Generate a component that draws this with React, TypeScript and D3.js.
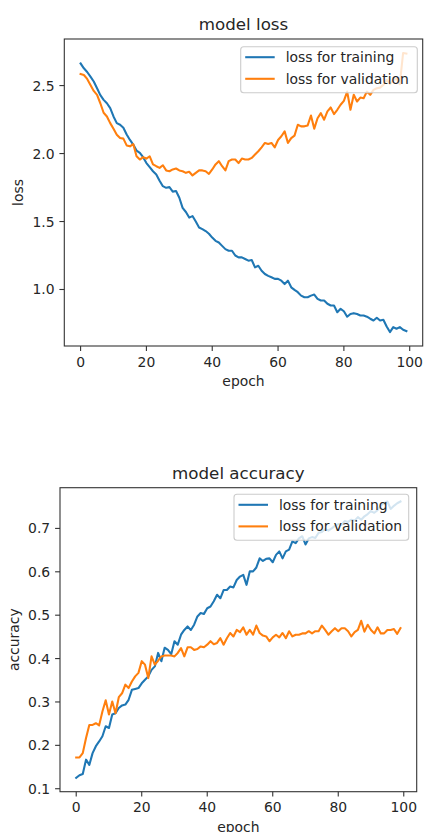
import React from "react";
import * as d3 from "d3";

const epochs: number[] = Array.from({ length: 100 }, (_, i) => i);

const trainLoss: number[] = [
  2.663, 2.627, 2.6, 2.566, 2.53, 2.48, 2.43, 2.395, 2.37, 2.334,
  2.273, 2.224, 2.212, 2.19, 2.14, 2.1, 2.066, 2.022, 2.005, 1.973,
  1.93, 1.9, 1.87, 1.846, 1.8, 1.76, 1.748, 1.753, 1.72, 1.724,
  1.675, 1.6, 1.57, 1.529, 1.54, 1.5, 1.456, 1.444, 1.43, 1.41,
  1.382, 1.358, 1.346, 1.321, 1.297, 1.285, 1.285, 1.25, 1.236, 1.236,
  1.224, 1.212, 1.217, 1.163, 1.175, 1.138, 1.114, 1.1, 1.09, 1.078,
  1.078, 1.065, 1.04, 1.065, 1.016, 0.997, 0.98, 0.955, 0.943, 0.943,
  0.955, 0.963, 0.931, 0.919, 0.919, 0.895, 0.882, 0.882, 0.833, 0.858,
  0.84, 0.8, 0.82, 0.826, 0.82, 0.809, 0.809, 0.8, 0.785, 0.772,
  0.792, 0.772, 0.777, 0.728, 0.687, 0.723, 0.711, 0.723, 0.704, 0.694,
];

const valLoss: number[] = [
  2.585, 2.578, 2.549, 2.505, 2.461, 2.432, 2.37, 2.3, 2.273, 2.224,
  2.183, 2.139, 2.114, 2.11, 2.06, 2.053, 2.07, 1.98, 1.956, 1.973,
  1.963, 1.98, 1.92, 1.907, 1.895, 1.914, 1.876, 1.87, 1.883, 1.89,
  1.876, 1.87, 1.858, 1.866, 1.839, 1.858, 1.876, 1.876, 1.87, 1.85,
  1.883, 1.92, 1.944, 1.907, 1.876, 1.944, 1.956, 1.956, 1.93, 1.963,
  1.956, 1.956, 1.968, 1.993, 2.017, 2.046, 2.078, 2.07, 2.078, 2.046,
  2.1, 2.127, 2.163, 2.078, 2.114, 2.132, 2.212, 2.2, 2.2, 2.207,
  2.28, 2.183, 2.26, 2.297, 2.249, 2.31, 2.339, 2.29, 2.322, 2.359,
  2.388, 2.456, 2.322, 2.432, 2.383, 2.412, 2.407, 2.456, 2.432, 2.468,
  2.48, 2.485, 2.505, 2.542, 2.51, 2.54, 2.55, 2.51, 2.74, 2.735,
];

const trainAcc: number[] = [
  0.125, 0.131, 0.134, 0.167, 0.155, 0.182, 0.198, 0.209, 0.221, 0.244,
  0.24, 0.271, 0.274, 0.286, 0.292, 0.294, 0.305, 0.328, 0.33, 0.332,
  0.343, 0.351, 0.359, 0.374, 0.382, 0.413, 0.394, 0.425, 0.42, 0.41,
  0.44, 0.432, 0.455, 0.466, 0.474, 0.466, 0.478, 0.497, 0.505, 0.503,
  0.516, 0.52, 0.532, 0.547, 0.539, 0.558, 0.558, 0.566, 0.564, 0.581,
  0.589, 0.593, 0.57, 0.601, 0.601, 0.61, 0.631, 0.625, 0.63, 0.631,
  0.622, 0.639, 0.647, 0.631, 0.647, 0.651, 0.67, 0.666, 0.677, 0.682,
  0.663, 0.677, 0.68, 0.678, 0.69, 0.692, 0.698, 0.695, 0.7, 0.706,
  0.71, 0.708, 0.717, 0.715, 0.72, 0.718, 0.726, 0.72, 0.728, 0.733,
  0.74, 0.736, 0.742, 0.753, 0.758, 0.762, 0.745, 0.752, 0.758, 0.762,
];

const valAcc: number[] = [
  0.172, 0.172, 0.182, 0.217, 0.247, 0.247, 0.251, 0.246, 0.278, 0.304,
  0.271, 0.301, 0.274, 0.311, 0.32, 0.34, 0.332, 0.347, 0.359, 0.367,
  0.394, 0.386, 0.355, 0.405, 0.386, 0.395, 0.405, 0.407, 0.407, 0.407,
  0.405, 0.413, 0.424, 0.405, 0.426, 0.426, 0.42, 0.422, 0.428, 0.426,
  0.432, 0.44, 0.433, 0.436, 0.447, 0.432, 0.447, 0.459, 0.451, 0.466,
  0.461, 0.472, 0.455, 0.466, 0.455, 0.476, 0.459, 0.453, 0.451, 0.44,
  0.449, 0.455, 0.449, 0.459, 0.447, 0.463, 0.451, 0.455, 0.455, 0.458,
  0.458, 0.463, 0.458, 0.463, 0.463, 0.476, 0.466, 0.455, 0.463, 0.47,
  0.463, 0.47, 0.47, 0.463, 0.451, 0.461, 0.466, 0.487, 0.462, 0.478,
  0.466, 0.458, 0.472, 0.458, 0.458, 0.466, 0.466, 0.468, 0.457, 0.47,
];

const xTicks: number[] = [0, 20, 40, 60, 80, 100];
const lossTicks: number[] = [1.0, 1.5, 2.0, 2.5];
const accTicks: number[] = [0.1, 0.2, 0.3, 0.4, 0.5, 0.6, 0.7];
const legendLabels: string[] = ["loss for training", "loss for validation"];
const titles: string[] = ["model loss", "model accuracy"];
const yLabels: string[] = ["loss", "accuracy"];
const xLabel = "epoch";

const COLORS = ["#1f77b4", "#ff7f0e"];
const FONT = "'DejaVu Sans', sans-serif";
const TXT = "#262626";

type PanelProps = {
  left: number;
  right: number;
  top: number;
  bottom: number;
  series: number[][];
  yTicks: number[];
  title: string;
  yLabel: string;
  yLabelX: number;
  legendRightInset: number;
  legendTopInset: number;
  legendWidth: number;
};

function Panel(p: PanelProps) {
  const all = p.series.flat();
  const ymin = d3.min(all) as number;
  const ymax = d3.max(all) as number;
  const ym = (ymax - ymin) * 0.05;
  const xm = (99 - 0) * 0.05;
  const x = d3.scaleLinear().domain([0 - xm, 99 + xm]).range([p.left, p.right]);
  const y = d3.scaleLinear().domain([ymin - ym, ymax + ym]).range([p.bottom, p.top]);
  const line = d3
    .line<number>()
    .x((_, i) => x(epochs[i]))
    .y((d) => y(d));
  const lx = p.right - p.legendRightInset - p.legendWidth;
  const ly = p.top + p.legendTopInset;
  const cx = (p.left + p.right) / 2;
  const cy = (p.top + p.bottom) / 2;
  const fs = 13.9;
  return (
    <g>
      <defs>
        <clipPath id={"clip-" + p.title.replace(/\s/g, "")}>
          <rect x={p.left} y={p.top} width={p.right - p.left} height={p.bottom - p.top} />
        </clipPath>
      </defs>
      <g clipPath={`url(#clip-${p.title.replace(/\s/g, "")})`}>
        {p.series.map((s, i) => (
          <path
            key={i}
            d={line(s) || ""}
            fill="none"
            stroke={COLORS[i]}
            strokeWidth={2.08}
            strokeLinejoin="round"
            strokeLinecap="square"
          />
        ))}
      </g>
      <rect
        x={p.left}
        y={p.top}
        width={p.right - p.left}
        height={p.bottom - p.top}
        fill="none"
        stroke="#333"
        strokeWidth={1.1}
      />
      {xTicks.map((t) => (
        <g key={"x" + t}>
          <line x1={x(t)} x2={x(t)} y1={p.bottom} y2={p.bottom + 4.9} stroke="#333" strokeWidth={1.1} />
          <text x={x(t)} y={p.bottom + 20.5} textAnchor="middle" fontSize={fs} fontFamily={FONT} fill={TXT}>
            {t}
          </text>
        </g>
      ))}
      {p.yTicks.map((t) => (
        <g key={"y" + t}>
          <line x1={p.left - 4.9} x2={p.left} y1={y(t)} y2={y(t)} stroke="#333" strokeWidth={1.1} />
          <text
            x={p.left - 9.8}
            y={y(t)}
            dy="0.36em"
            textAnchor="end"
            fontSize={fs}
            fontFamily={FONT}
            fill={TXT}
          >
            {t.toFixed(1)}
          </text>
        </g>
      ))}
      <text x={cx} y={p.top - 8.8} textAnchor="middle" fontSize={16.7} fontFamily={FONT} fill={TXT}>
        {p.title}
      </text>
      <text x={cx} y={p.bottom + 40} textAnchor="middle" fontSize={fs} fontFamily={FONT} fill={TXT}>
        {xLabel}
      </text>
      <text
        transform={`translate(${p.yLabelX},${cy}) rotate(-90)`}
        textAnchor="middle"
        fontSize={fs}
        fontFamily={FONT}
        fill={TXT}
      >
        {p.yLabel}
      </text>
      <g>
        <rect
          x={lx}
          y={ly}
          width={p.legendWidth}
          height={46}
          rx={3}
          ry={3}
          fill="white"
          fillOpacity={0.8}
          stroke="#cccccc"
          strokeWidth={1.1}
        />
        {legendLabels.map((lab, i) => (
          <g key={lab}>
            <line
              x1={lx + 4.5}
              x2={lx + 34}
              y1={ly + 10.5 + i * 21.6}
              y2={ly + 10.5 + i * 21.6}
              stroke={COLORS[i]}
              strokeWidth={2.08}
            />
            <text
              x={lx + 45}
              y={ly + 10.5 + i * 21.6}
              dy="0.36em"
              fontSize={fs}
              fontFamily={FONT}
              fill={TXT}
            >
              {lab}
            </text>
          </g>
        ))}
      </g>
    </g>
  );
}

export default function App() {
  return (
    <svg
      width={424}
      height={832}
      style={{ position: "absolute", left: 0, top: 0, background: "white" }}
    >
      <rect x={0} y={0} width={424} height={832} fill="white" />
      <Panel
        left={64.3}
        right={422.7}
        top={39}
        bottom={346}
        series={[trainLoss, valLoss]}
        yTicks={lossTicks}
        title={titles[0]}
        yLabel={yLabels[0]}
        yLabelX={22.5}
        legendRightInset={5.4}
        legendTopInset={7.7}
        legendWidth={176.6}
      />
      <Panel
        left={60}
        right={416.7}
        top={487.7}
        bottom={791.7}
        series={[trainAcc, valAcc]}
        yTicks={accTicks}
        title={titles[1]}
        yLabel={yLabels[1]}
        yLabelX={19}
        legendRightInset={8}
        legendTopInset={6.6}
        legendWidth={174.7}
      />
    </svg>
  );
}
